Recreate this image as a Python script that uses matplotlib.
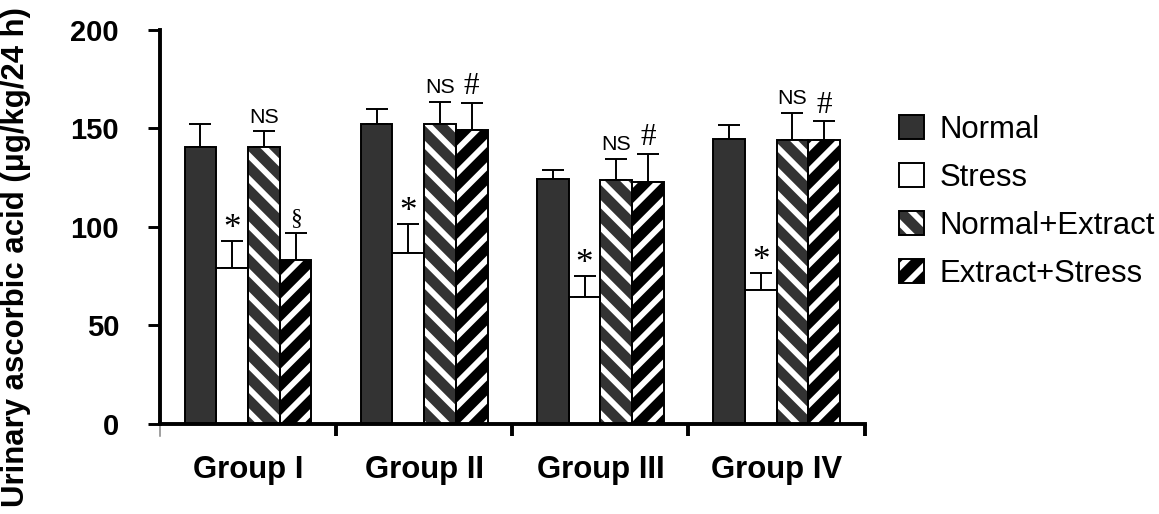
import numpy as np
import matplotlib
matplotlib.use("Agg")
import matplotlib.pyplot as plt
from matplotlib.patches import Patch

"""
Urinary ascorbic acid per group, four treatments, upper error bars only.
"""

dpi = 140

#
# DATA
#

groups = ["Group I", "Group II", "Group III", "Group IV"]
series_names = ["Normal", "Stress", "Normal+Extract", "Extract+Stress"]

normal = [140.5, 152, 124.5, 144.5]
normal_err = [11.5, 8, 4.5, 7]
stress = [79, 87, 64.5, 68]
stress_err = [14, 14.5, 10.5, 8.5]
normal_extract = [140.5, 152, 124, 144]
normal_extract_err = [8, 11.5, 10.5, 14]
extract_stress = [83, 149, 123, 144]
extract_stress_err = [14, 14, 14, 9.5]

# significance marks written above the error bars
stress_marks = ["*", "*", "*", "*"]
normal_extract_marks = ["NS", "NS", "NS", "NS"]
extract_stress_marks = ["§", "#", "#", "#"]

#
# STYLE
#

plt.rcParams['font.family'] = ['Liberation Sans', 'DejaVu Sans']
plt.rcParams['hatch.linewidth'] = 3.0

# face colour, hatch for each series
styles = [("#333333", None), ("white", None), ("#333333", "\\\\"), ("black", "//")]

# font, size and baseline offset (points) for each mark
mark_style = {
    "*": ("Liberation Serif", 18, 1.5),
    "NS": ("Liberation Sans", 11, 4.5),
    "#": ("Liberation Serif", 16, 4.5),
    "§": ("Liberation Serif", 12, 4.5),
}


def draw_bars(ax, x, values, errors, face, hatch):
    """
    Draws one series: filled (white hatch) bars, black outline on top, upper error bars
    """
    ax.bar(x, values, width, color=face, hatch=hatch,
           edgecolor="white" if hatch else face, linewidth=0, zorder=2)
    ax.bar(x, values, width, fill=False, edgecolor="black", linewidth=1.0, zorder=3)
    ax.errorbar(x, values, yerr=[np.zeros(len(values)), errors], fmt="none",
                ecolor="black", elinewidth=1.0, capsize=5.5, capthick=1.0, zorder=1)


def add_marks(ax, x, tops, marks):
    for xi, top, mark in zip(x, tops, marks):
        family, size, offset = mark_style[mark]
        ax.annotate(mark, (xi, top), xytext=(0, offset), textcoords="offset points",
                    ha="center", va="baseline", fontsize=size, family=family, color="black")


#
# PLOT
#

fig = plt.figure(figsize=(1159 / dpi, 514 / dpi), dpi=dpi)
ax = fig.add_axes([0.138, 0.175, 0.608, 0.767])

x = np.arange(len(groups))
width = 0.18
offsets = [-1.5, -0.5, 0.5, 1.5]

all_values = [normal, stress, normal_extract, extract_stress]
all_errors = [normal_err, stress_err, normal_extract_err, extract_stress_err]

for values, errors, offset, (face, hatch) in zip(all_values, all_errors, offsets, styles):
    draw_bars(ax, x + offset * width, values, errors, face, hatch)

add_marks(ax, x + offsets[1] * width, np.add(stress, stress_err), stress_marks)
add_marks(ax, x + offsets[2] * width, np.add(normal_extract, normal_extract_err), normal_extract_marks)
add_marks(ax, x + offsets[3] * width, np.add(extract_stress, extract_stress_err), extract_stress_marks)

ax.set_xlim(-0.5, len(groups) - 0.5)
ax.set_ylim(0, 200)

ax.spines['top'].set_visible(False)
ax.spines['right'].set_visible(False)
ax.spines['left'].set_linewidth(2)
ax.spines['bottom'].set_linewidth(2)

ax.set_yticks([0, 50, 100, 150, 200])
ax.tick_params(axis='y', direction='out', length=6, width=1.5, pad=15, labelsize=15)
for label in ax.get_yticklabels():
    label.set_fontweight("bold")

# labels at the group centres, ticks at the group boundaries
ax.set_xticks(x)
ax.set_xticklabels(groups, fontsize=16, fontweight="bold")
ax.tick_params(axis='x', which='major', length=0, pad=16)
ax.set_xticks(np.arange(len(groups)) + 0.5, minor=True)
ax.tick_params(axis='x', which='minor', direction='out', length=6, width=2)
ax.plot([-0.5, -0.5], [0, -0.03], transform=ax.get_xaxis_transform(),
        color="#888888", linewidth=0.8, clip_on=False)

fig.text(0.014, 0.5, "Urinary ascorbic acid (μg/kg/24 h)", rotation=90,
         ha="center", va="center", fontsize=16, fontweight="bold")

handles = []
for face, hatch in styles:
    fill = Patch(facecolor=face, hatch=hatch, edgecolor="white" if hatch else face, linewidth=0)
    outline = Patch(fill=False, edgecolor="black", linewidth=1.0)
    handles.append((fill, outline))

fig.legend(handles, series_names, loc="center left", bbox_to_anchor=(0.776, 0.607),
           frameon=False, fontsize=16, handlelength=0.8, handleheight=0.8,
           handletextpad=0.5, labelspacing=0.58, borderpad=0, borderaxespad=0)

plt.savefig("out.png", dpi=dpi)
plt.close()
